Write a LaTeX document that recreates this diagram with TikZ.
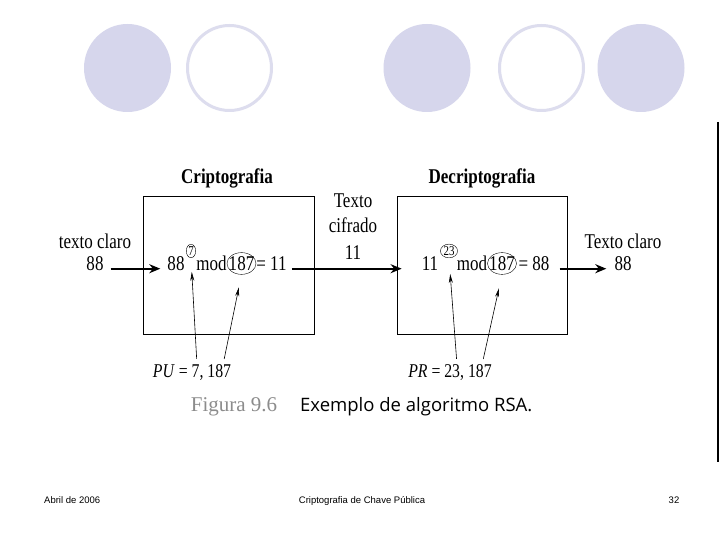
\documentclass[tikz,border=0pt]{standalone}
\usepackage{fontspec}
\setmainfont{Liberation Serif}
\newfontfamily\figfont[FakeStretch=0.81]{Liberation Serif}
\newfontfamily\capfont{Open Sans}
\newfontfamily\footfont{Liberation Sans}
\usetikzlibrary{shapes,positioning,arrows.meta}
\tikzset{>=stealth}
\definecolor{dotFill}{RGB}{214,214,236}
\definecolor{dotLine}{RGB}{221,221,238}
\colorlet{penColor}{black}
\colorlet{capGray}{black!45}

\tikzset{
  txt/.style={font=\figfont\fontsize{21}{24}\selectfont, inner sep=0pt, anchor=base},
  heading/.style={txt, font=\figfont\fontsize{21}{24}\selectfont\bfseries},
  expo/.style={draw, ellipse, thin, inner xsep=0.6pt, inner ysep=0.3pt, font=\figfont\fontsize{13.5}{13.5}\selectfont},
  modulus/.style={draw, ellipse, thin, inner xsep=-2.5pt, inner ysep=0.6pt, font=\figfont\fontsize{21}{24}\selectfont},
  stagebox/.style={draw=penColor, line width=1pt, minimum width=171pt, minimum height=138pt},
  flow/.style={-{Stealth[length=11pt,width=9pt]}, line width=2.2pt, shorten <=7pt, shorten >=7pt},
  keyarrow/.style={-{Stealth[length=9pt,width=4pt]}, line width=0.6pt, shorten <=6pt},
  footer/.style={font=\footfont\fontsize{9.5}{11}\selectfont, inner sep=0pt, anchor=base}
}

\begin{document}
\begin{tikzpicture}[x=1pt,y=1pt]
  \useasboundingbox[fill=white] (0,0) rectangle (720,540);

  % decoracao do slide
  \foreach \cx in {127.5,427,641}
    \fill[dotFill] (\cx,472) ellipse [x radius=43.5, y radius=44];
  \draw[dotLine,line width=3pt] (229.5,472) ellipse [x radius=42, y radius=42.5];
  \draw[dotLine,line width=3pt] (541.5,472) ellipse [x radius=42, y radius=42.5];
  \draw[line width=2pt] (718,418) -- (718,78);

  % caixas
  \node[stagebox] (enc) at (228.5,274) {};
  \node[stagebox, minimum width=170pt] (dec) at (482,274) {};
  \node[heading] (encTitle) at (227,356) {Criptografia};
  \node[heading] (decTitle) at (482,356) {Decriptografia};

  % entrada
  \node[txt] (inLabel) at (95,291) {texto claro};
  \node[txt] (in) at (95,269) {88};

  % equacao de cifragem
  \node[txt] (base1) at (176,269) {88};
  \node[expo] (exp1) at (191,289) {7};
  \node[txt] (mod1) at (211.5,269) {mod};
  \node[modulus] (n1) at (241.5,276.5) {187};
  \node[txt] (eq1) at (271.5,269) {= 11};

  % texto cifrado
  \node[txt] (midA) at (353,332) {Texto};
  \node[txt] (midB) at (353,307) {cifrado};
  \node[txt] (midC) at (353,280) {11};

  % equacao de decifragem
  \node[txt] (base2) at (430,269) {11};
  \node[expo] (exp2) at (449,289) {23};
  \node[txt] (mod2) at (472,269) {mod};
  \node[modulus] (n2) at (502,276.5) {187};
  \node[txt] (eq2) at (534,269) {= 88};

  % saida
  \node[txt] (outLabel) at (623,291) {Texto claro};
  \node[txt] (out) at (623,269) {88};

  % chaves
  \node[txt, font=\figfont\fontsize{19.5}{22}\selectfont] (pu) at (192,162) {\textit{PU} = 7, 187};
  \node[txt, font=\figfont\fontsize{19.5}{22}\selectfont] (pr) at (450,162) {\textit{PR} = 23, 187};

  \draw[flow] (in.mid east) -- (base1.mid west);
  \draw[flow, shorten <=5pt, shorten >=20pt] (eq1.mid east) -- (base2.mid west);
  \draw[flow, shorten <=10pt, shorten >=8pt] (eq2.mid east) -- (out.mid west);

  \draw[keyarrow, shorten >=14pt] ([xshift=5pt]pu.north) -- (exp1.south);
  \draw[keyarrow, shorten >=13pt] ([xshift=31pt]pu.north) -- (n1.south);
  \draw[keyarrow, shorten >=16pt] ([xshift=7pt]pr.north) -- (exp2.south);
  \draw[keyarrow, shorten >=14pt] ([xshift=32pt]pr.north) -- (n2.south);

  % legenda
  \node[inner sep=0pt, anchor=base, text=capGray, font=\rmfamily\fontsize{21}{24}\selectfont] (figNum) at (234,128) {Figura 9.6};
  \node[inner sep=0pt, anchor=base west, font=\capfont\fontsize{18.5}{22}\selectfont] (figText) at (300,128) {Exemplo de algoritmo RSA.};

  % rodape
  \node[footer, anchor=base west] (date) at (44,36) {Abril de 2006};
  \node[footer] (title) at (362,36) {Criptografia de Chave Pública};
  \node[footer] (page) at (674,36) {32};
\end{tikzpicture}
\end{document}
